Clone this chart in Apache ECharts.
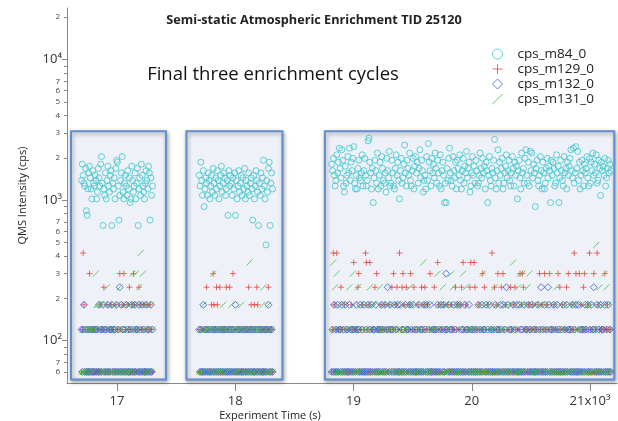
<!DOCTYPE html>
<html><head><meta charset="utf-8">
<script src="https://cdn.jsdelivr.net/npm/echarts@6/dist/echarts.min.js"></script>
<style>html,body{margin:0;padding:0;background:#fff}#c{width:618px;height:421px}</style>
</head><body><div id="c"></div>
<script>
// ---- DATA ----
// three enrichment cycles: first and last sample time (s)
const cycleStart = [16700, 17695, 18815];
const cycleEnd   = [17300, 18315, 21175];

// cps_m84_0 values (cps) in time order for each cycle
const m84_c1 = [1380,1800,1500,1320,1260,1680,840,780,1200,1560,
 1740,1440,1200,1020,1620,1320,1260,1500,1380,1020,
 1140,1680,1440,1260,1800,2040,1320,660,1200,1080,
 1560,1020,1380,1740,1260,1140,1500,1620,660,1320,
 1200,1440,1020,1680,1920,1860,1260,720,1080,1380,
 1560,2040,1140,1020,1320,1500,1260,1080,1620,1200,
 1440,960,1020,1740,1380,1140,1260,1560,1020,1320,
 1680,660,1200,1440,1080,1800,1500,1260,1140,1020,
 1320,1620,1380,1200,1740,1560,720,1440,1080,1260];
const m84_c2 = [1500,1260,1860,1380,1080,1620,900,1200,1440,1320,
 1080,1560,1380,1020,1260,1500,1140,1680,1320,1080,
 1440,1200,1620,1380,1020,1260,1500,1740,1140,1320,
 1560,1440,1080,1200,1380,780,1620,1260,1500,1320,
 1080,1440,1200,1560,780,1380,1020,1260,1620,1140,
 1320,1500,1080,1440,1200,1680,1020,1380,1260,1140,
 1560,1080,1320,1440,1200,720,1500,1020,1260,1620,
 1380,1140,660,1320,1080,1560,1200,1440,1920,1260,
 1020,480,1380,1140,1680,1860,660,1320,1560,1200];
const m84_c3 = [1800,1620,1980,1500,1260,1380,2100,1560,1860,2340,
 1680,1440,2280,1920,1260,1140,1740,1320,1500,2040,
 1560,2340,1380,1860,1620,1980,2400,1320,1200,1500,
 1200,1680,1920,1440,1380,1560,2100,1260,1620,1980,
 1500,1260,1380,2640,2760,1860,1560,1200,1680,960,
 1440,1920,1620,1320,2160,1200,1500,1860,1260,2040,
 1680,1380,1320,1560,1140,1980,1620,1440,2220,1260,
 1320,1920,1560,1260,1200,1680,2100,1500,1860,1380,
 1020,1620,1980,1320,1440,1800,2460,1560,1260,1920,
 1680,1500,2160,1380,1260,1620,1980,1200,1740,2040,
 1560,1860,1320,1680,2280,1440,1920,1620,1140,1380,
 1500,1200,2040,1380,2520,1860,1620,1260,1980,1560,
 1800,1440,2160,1680,1320,1920,1560,1260,2100,1200,
 1620,1860,1500,960,1320,960,1680,1380,1980,2340,
 1560,1380,1260,2040,1620,1440,1860,1200,1920,1680,
 1500,2100,1380,1200,1620,1980,1320,1740,1560,2220,
 1440,1680,1860,1140,1260,1560,2040,1500,1740,1320,
 1920,1620,1260,1320,1500,2160,1680,1440,1980,1560,
 1740,1200,1860,1620,960,1500,2040,1380,1260,1680,
 1560,1920,2700,1440,1200,1620,2280,1320,1860,1500,
 1680,1980,1200,1320,1560,1740,2100,1440,1620,1920,
 1380,1260,1560,2040,1680,1260,1860,1500,1740,1020,
 1620,1920,1440,1200,2160,1560,1680,1320,1980,2280,
 1500,1320,1860,1260,2220,1620,2160,1440,1800,1560,
 900,1680,1920,1380,1260,1500,2040,1620,1200,1860,
 1560,1200,1320,1680,1980,1440,1740,1620,960,1920,
 1500,1860,1680,1260,1320,2100,1560,1740,960,1440,
 1920,1620,1380,1260,2040,1560,1680,1200,1860,1500,
 1740,1980,2280,1620,1440,2340,1320,1560,2400,1680,
 2220,1380,1860,1200,1500,1920,1620,1260,1800,1560,
 1680,2040,1440,1260,1980,1320,1860,1620,2160,1500,
 1800,1560,2100,1320,1380,1920,1680,1080,1860,1620,
 1740,1500,1980,1260,1440,1680,1920,1560,1800,1620];

// m129 / m132 / m131: detector counts per sample (1 count = 60 cps), time order
const COUNT_CPS = 60;
const m129_c1 = "1273121121"+"5121121211"+"2113121241"+"1231121321"+"2113121252"+"1315121312"+"4123153121"+"2141321231"+"2131213121";
const m132_c1 = "2123121121"+"1212112121"+"2131212312"+"1213121231"+"2121312141"+"3121213121"+"1213121312"+"2131213121"+"1312121312";
const m131_c1 = "1211212121"+"2121121253"+"3123131213"+"1241213121"+"3121312141"+"2131213121"+"1312531253"+"1241731523"+"1213121312";

const m129_c2 = "1212121214"+"2121132531"+"2431241212"+"1214212412"+"1521211212"+"1212121121"+"4123121321"+"4312121212"+"1212412121";
const m132_c2 = "2121131212"+"1211212121"+"2121121212"+"1212112121"+"2121312121"+"2112121212"+"1212121121"+"2121212112"+"1212312121";
const m131_c2 = "1212131212"+"2121212512"+"1212121213"+"2121212123"+"1212121212"+"2312121212"+"1612121212"+"2121212341"+"2121312121";

const m129_c3 = ["1273127121","2412131212","1213216121","2451213121","7621361212","1415212131","2123121132","1425123412","7124513241","2135121421",
 "1231214213","4123125121","2412163121","2131212312","1321214213","2134162131","2124612164","1213212152","4121312127","1241325121",
 "4152131212","1421314212","1251354121","2131212312","1213152131","2512312512","1231212514","2131212415","1213217251","2151312451",
 "2131721215","1217312121","2151231212"].join("");
const m132_c3 = ["1213121312","2131213121","1312121213","2121312131","1213121312","2131212123","1213124213","2121312131","1312121312","2131213121",
 "1213121213","2131213112","1212131213","2131252131","2121312131","1312121312","2131212121","1213121312","2131213121","1213121213",
 "2131214131","2121312131","1312121312","2131213121","1213121412","1312143121","2131213121","1213121312","2121312131","1312121213",
 "2131213124","1213121312","2131213121"].join("");
const m131_c3 = ["1262415121","3121213121","2412151312","1412131213","2121341213","1312121412","3121213121","2131212312","1213121213","2141312131",
 "2121312161","3121213121","2121253121","3412131213","2514131213","1213152141","2121212121","1213121351","2131213121","1241312131",
 "2121312131","1312612131","4151353121","3415121312","1312131213","2131213121","1213141213","2121312131","1312131213","2131212131",
 "1213121312","2181314121","3151413121"].join("");

// axis ticks
const xTicks = [17000, 18000, 19000, 20000, 21000];
const yDecades = [100, 1000, 10000];
const yMinorTicks = [60,70,80,90,200,300,400,500,600,700,800,900,2000,3000,4000,5000,6000,7000,8000,9000,20000];
const yMinorLabels = [60,70,200,300,400,500,600,700,2000,3000,4000,5000,6000,7000,20000];
const seriesNames = ["cps_m84_0","cps_m129_0","cps_m132_0","cps_m131_0"];

// ---- BUILD ----
function timed(cycles, conv) {
  const out = [];
  cycles.forEach((arr, c) => {
    const n = arr.length;
    const step = (cycleEnd[c] - cycleStart[c]) / (n - 1);
    for (let i = 0; i < n; i++) out.push([cycleStart[c] + i * step, conv(arr[i])]);
  });
  return out;
}
const d84 = timed([m84_c1, m84_c2, m84_c3], v => v);
const cnt = ch => Number(ch) * COUNT_CPS;
const d129 = timed([m129_c1, m129_c2, m129_c3], cnt);
const d132 = timed([m132_c1, m132_c2, m132_c3], cnt);
const d131 = timed([m131_c1, m131_c2, m131_c3], cnt);

const SYM = {
  circle: 'path://M10,5A5,5,0,1,1,0,5A5,5,0,1,1,10,5Z',
  plus: 'path://M5,0L5,10M0,5L10,5',
  diamond: 'path://M5,0L10,5L5,10L0,5Z',
  slash: 'path://M0,10L10,0'
};
const COLORS = ['#3cc6d0', '#e8453f', '#3a5ad8', '#3cc43c'];
const boxes = [[16611, 17414], [17587, 18399], [18758, 21205]];
const boxY = [53, 3085];
const FONT = 'Open Sans';
const sup = {2: '\u00b2', 3: '\u00b3', 4: '\u2074'};

function sc(name, data, sym, size, color) {
  return {
    type: 'scatter', name, data, symbol: sym, symbolSize: size,
    itemStyle: { color: 'rgba(0,0,0,0)', borderColor: color, borderWidth: 1 },
    emphasis: { disabled: true }, silent: true
  };
}
const s84 = sc(seriesNames[0], d84, SYM.circle, 6, COLORS[0]);
s84.markArea = {
  silent: true,
  itemStyle: { color: '#eef1f7', borderColor: '#5f8fcf', borderWidth: 2,
    shadowBlur: 4, shadowColor: 'rgba(0,0,0,0.35)', shadowOffsetX: 1, shadowOffsetY: 2 },
  data: boxes.map(b => [{ xAxis: b[0], yAxis: boxY[0] }, { xAxis: b[1], yAxis: boxY[1] }])
};

const chart = echarts.init(document.getElementById('c'), null, { renderer: 'canvas' });
chart.setOption({
  animation: false,
  backgroundColor: '#fff',
  textStyle: { fontFamily: FONT },
  title: [
    { text: 'Semi-static Atmospheric Enrichment TID 25120', left: 309, top: 9, textAlign: 'center',
      textStyle: { fontSize: 12.7, fontWeight: 'bold', color: '#222', fontFamily: FONT } },
    { text: 'Final three enrichment cycles', left: 268, top: 60, textAlign: 'center',
      textStyle: { fontSize: 18.5, fontWeight: 'normal', color: '#111', fontFamily: FONT } },
    { text: 'Experiment Time (s)', left: 265, top: 405, textAlign: 'center',
      textStyle: { fontSize: 11, fontWeight: 'normal', color: '#222', fontFamily: FONT } }
  ],
  legend: {
    orient: 'vertical', left: 487, top: 42, itemGap: 1, itemWidth: 30, itemHeight: 10,
    data: seriesNames.map((n, i) => ({
      name: n,
      itemStyle: { color: 'rgba(0,0,0,0)', borderColor: COLORS[i], borderWidth: 1 }
    })),
    textStyle: { fontSize: 13.5, lineHeight: 14, color: '#222', fontFamily: FONT }
  },
  grid: { left: 67, right: 1, top: 8, bottom: 38 },
  xAxis: {
    type: 'value', min: 16577, max: 21228,
    axisLine: { lineStyle: { color: '#8a8a8a' } },
    axisTick: { customValues: xTicks, length: 8, lineStyle: { color: '#8a8a8a' } },
    axisLabel: { customValues: xTicks, margin: 12, fontSize: 13, color: '#333',
      formatter: v => v === 21000 ? '21x10\u00b3' : String(v / 1000) },
    splitLine: { show: false }
  },
  yAxis: [
    { type: 'log', min: 50, max: 23250, position: 'left',
      axisLine: { show: true, lineStyle: { color: '#8a8a8a' } },
      axisTick: { show: true, customValues: yDecades, length: 5, lineStyle: { color: '#8a8a8a' } },
      axisLabel: { customValues: yDecades, margin: 5, fontSize: 13, color: '#333',
        formatter: v => '10' + sup[Math.round(Math.log10(v))] },
      splitLine: { show: false },
      name: 'QMS Intensity (cps)', nameLocation: 'middle', nameGap: 39,
      nameTextStyle: { fontSize: 11, color: '#222', fontFamily: FONT } },
    { type: 'log', min: 50, max: 23250, position: 'left',
      axisLine: { show: false },
      axisTick: { show: true, customValues: yMinorTicks, length: 3, lineStyle: { color: '#8a8a8a' } },
      axisLabel: { customValues: yMinorLabels, margin: 7, fontSize: 8, color: '#444',
        formatter: v => String(Math.round(v / Math.pow(10, Math.floor(Math.log10(v) + 1e-9)))) },
      splitLine: { show: false } }
  ],
  series: [
    s84,
    sc(seriesNames[1], d129, SYM.plus, 6, COLORS[1]),
    sc(seriesNames[2], d132, SYM.diamond, 7, COLORS[2]),
    sc(seriesNames[3], d131, SYM.slash, 6, COLORS[3])
  ]
});
</script></body></html>
